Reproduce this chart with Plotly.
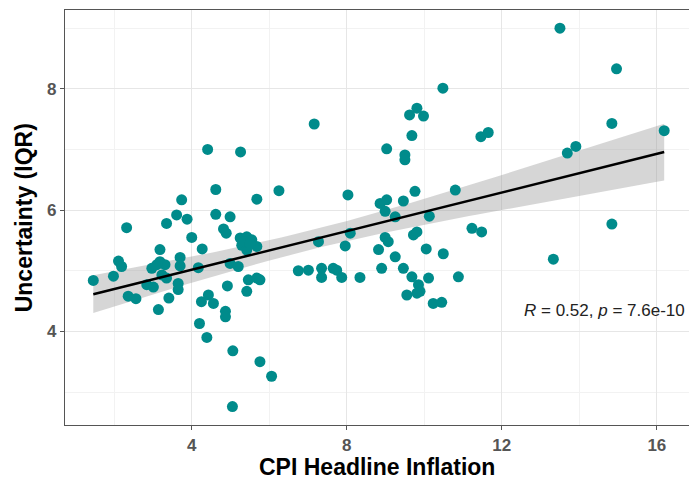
import numpy as np
import plotly.graph_objects as go

# CPI headline inflation (x) and uncertainty IQR (y)
inflation = [
    1.46, 1.98, 2.11, 2.19, 2.32, 2.36, 2.56, 2.84, 3.01, 3.14, 3.18, 2.97, 3.18, 3.31, 3.10,
    3.23, 3.35, 3.41, 3.35, 3.61, 3.74, 3.88, 3.70, 3.70, 3.65, 3.65, 4.00, 4.17, 4.27,
    4.20, 4.39, 4.25, 4.43, 4.56, 4.62, 4.62, 4.41, 4.99, 4.82, 4.89, 4.99, 5.20, 4.92,
    4.87, 4.87, 5.06, 5.05, 5.26, 5.68, 6.25, 5.25, 5.42, 5.55, 5.68, 5.29, 5.42, 5.35,
    5.50, 5.46, 5.68, 5.76, 5.42, 5.76, 6.06, 6.75, 7.01, 7.35, 7.35, 7.65, 7.74, 7.87,
    8.34, 7.27, 7.96, 8.09, 7.16, 8.03, 8.86, 9.03, 8.99, 9.46, 9.76, 9.03, 9.50, 9.50,
    9.68, 9.62, 9.81, 9.98, 10.48, 10.80, 10.13, 9.25, 8.99, 9.07, 9.72, 9.81, 8.82,
    10.05, 10.49, 9.25, 8.90, 9.46, 9.68, 10.11, 10.88, 9.85, 9.89, 9.55, 9.81, 10.23,
    10.45, 11.23, 11.48, 11.46, 11.65, 13.50, 14.96, 14.84, 16.19, 13.69, 13.91, 14.84,
    13.33,
]
uncertainty = [
    4.84, 4.91, 5.16, 5.07, 5.71, 4.58, 4.54, 4.77, 4.73, 4.36, 5.35, 5.04, 5.15, 5.10, 5.10,
    4.93, 4.88, 4.55, 5.78, 5.92, 6.17, 5.85, 5.22, 5.08, 4.79, 4.69, 5.55, 5.05, 5.36,
    4.13, 3.90, 4.49, 4.60, 4.46, 5.93, 6.34, 7.00, 5.89, 5.69, 5.62, 5.12, 5.07, 4.75,
    4.33, 4.24, 3.68, 2.76, 6.96, 6.18, 6.32, 5.54, 5.56, 5.51, 5.40, 5.42, 5.34, 5.48,
    5.45, 4.85, 4.88, 4.85, 4.66, 3.50, 3.26, 5.00, 5.01, 5.04, 4.89, 5.04, 5.01, 4.89,
    4.89, 5.48, 5.41, 5.62, 7.42, 6.25, 6.11, 6.17, 5.98, 6.15, 6.31, 7.01, 6.91, 6.83,
    7.23, 7.57, 7.68, 7.55, 8.01, 6.33, 5.90, 5.89, 5.55, 5.48, 5.59, 5.64, 5.35,
    5.36, 5.28, 5.23, 5.04, 5.04, 4.90, 4.88, 4.90, 4.77, 4.66, 4.60, 4.63, 4.46,
    4.48, 5.70, 5.64, 7.21, 7.28, 9.00, 8.33, 7.43, 7.31, 6.94, 7.05, 5.77,
    5.19,
]
x_ticks = [4, 8, 12, 16]
y_ticks = [4, 6, 8]
cor_label = "<i>R</i> = 0.52, <i>p</i> = 7.6e-10"

# linear fit with 95% confidence band
x = np.array(inflation)
y = np.array(uncertainty)
n = len(x)
b1, b0 = np.polyfit(x, y, 1)
resid = y - (b0 + b1 * x)
s = np.sqrt(np.sum(resid ** 2) / (n - 2))
xbar = x.mean()
sxx = np.sum((x - xbar) ** 2)
xs = np.linspace(x.min(), x.max(), 80)
fit = b0 + b1 * xs
se = s * np.sqrt(1.0 / n + (xs - xbar) ** 2 / sxx)
t = 1.98
upper = fit + t * se
lower = fit - t * se

teal = "#008B8B"
fig = go.Figure()
fig.add_trace(go.Scatter(
    x=np.concatenate([xs, xs[::-1]]), y=np.concatenate([upper, lower[::-1]]),
    fill="toself", fillcolor="rgba(153,153,153,0.4)", line=dict(width=0),
    mode="lines", hoverinfo="skip", showlegend=False,
))
fig.add_trace(go.Scatter(
    x=inflation, y=uncertainty, mode="markers",
    marker=dict(color=teal, size=11, line=dict(width=0)),
    showlegend=False,
))
fig.add_trace(go.Scatter(
    x=xs, y=fit, mode="lines", line=dict(color="black", width=2.5),
    showlegend=False,
))

axis_common = dict(
    showgrid=True, gridcolor="#E6E6E6", gridwidth=1.2,
    zeroline=False, showline=True, linecolor="#555555", linewidth=1.2,
    ticks="outside", ticklen=4, tickcolor="#555555", tickwidth=1.2,
    tickfont=dict(family="Liberation Sans, Arial, sans-serif", size=17,
                  color="#555555", weight="bold"),
)
fig.update_xaxes(
    range=[0.73, 16.83], tickvals=x_ticks, mirror=True,
    minor=dict(dtick=2, tick0=0, showgrid=True, gridcolor="#F2F2F2", gridwidth=1),
    **axis_common,
)
fig.update_yaxes(
    range=[2.456, 9.30], tickvals=y_ticks,
    minor=dict(dtick=1, tick0=0, showgrid=True, gridcolor="#F2F2F2", gridwidth=1),
    **axis_common,
)

fig.add_annotation(
    x=12.52, y=4.35, xref="x", yref="y", text=cor_label, showarrow=False,
    xanchor="left", yanchor="middle",
    font=dict(family="Liberation Sans, Arial, sans-serif", size=17, color="#222222"),
)
fig.add_annotation(
    x=0.5, y=-0.1, xref="paper", yref="paper", text="<b>CPI Headline Inflation</b>",
    showarrow=False, xanchor="center", yanchor="middle", borderpad=0,
    font=dict(family="Liberation Sans, Arial, sans-serif", size=23, color="black"),
)
fig.add_annotation(
    x=-0.066, y=0.5, xref="paper", yref="paper", text="<b>Uncertainty (IQR)</b>",
    showarrow=False, xanchor="center", yanchor="middle", textangle=-90,
    font=dict(family="Liberation Sans, Arial, sans-serif", size=23, color="black"),
)

fig.update_layout(
    width=689, height=480,
    margin=dict(l=65, r=0, t=10, b=55),
    plot_bgcolor="white", paper_bgcolor="white",
    showlegend=False,
)
fig.write_html("out.html")
